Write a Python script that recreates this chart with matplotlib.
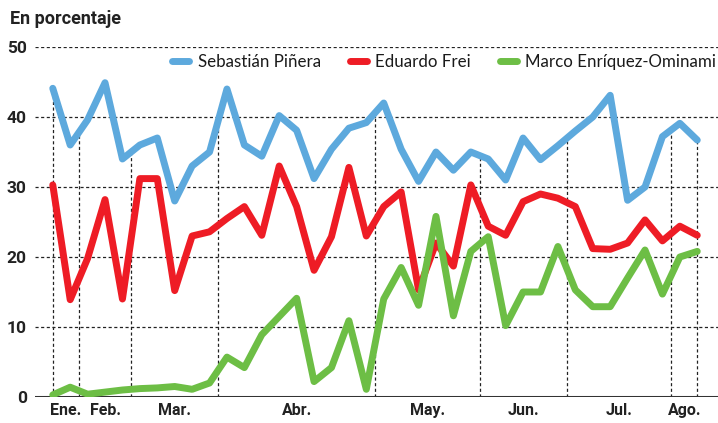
import numpy as np
import matplotlib
matplotlib.use("Agg")
import matplotlib.pyplot as plt

# poll values, one per survey (equally spaced in time order)
pinera = [44.1, 36, 39.6, 44.9, 34, 36, 37, 28, 33, 35,
          44, 36, 34.4, 40.2, 38.1, 31.2, 35.4, 38.4, 39.2, 42,
          35.4, 30.8, 35, 32.4, 35, 34, 31, 37, 33.9, 35.9,
          38, 40, 43.1, 28.1, 30, 37.2, 39.1, 36.7]
frei = [30.3, 13.9, 19.8, 28.2, 14, 31.2, 31.2, 15.2, 23, 23.6,
        25.5, 27.2, 23.1, 33, 27.2, 18.1, 22.9, 32.8, 23, 27.2,
        29.3, 15.3, 22, 18.7, 30.3, 24.4, 23.1, 27.9, 29, 28.4,
        27.2, 21.2, 21.1, 22, 25.3, 22.3, 24.4, 23.1]
meo = [0.3, 1.4, 0.4, 0.7, 1.0, 1.2, 1.3, 1.5, 1.1, 2.0,
       5.7, 4.2, 8.9, 11.5, 14.1, 2.2, 4.2, 10.9, 1.1, 14,
       18.5, 13.1, 25.8, 11.6, 20.8, 22.9, 10.2, 15, 15, 21.5,
       15.3, 12.9, 12.9, 17, 21, 14.7, 20, 20.8]

# month boundaries expressed in poll index units
month_edges = [0, 1.5, 4.5, 9.5, 18.5, 24.5, 29.5, 35.5, 37]
months = ["Ene.", "Feb.", "Mar.", "Abr.", "May.", "Jun.", "Jul.", "Ago."]
yticks = [0, 10, 20, 30, 40, 50]

names = ["Sebastián Piñera", "Eduardo Frei", "Marco Enríquez-Ominami"]
colors = ["#5DA9DD", "#EE1C25", "#6DBE45"]

bold_narrow = ["Roboto", "DejaVu Sans"]

x = np.arange(len(pinera))

fig = plt.figure(figsize=(7.18, 4.23), dpi=100)
ax = fig.add_axes([35 / 718, 26 / 423, 683 / 718, 350 / 423])

# grid
for v in yticks[1:]:
    ax.axhline(v, color="#222222", lw=0.9, ls=(0, (2.5, 2)), zorder=1)
for e in month_edges:
    top = np.interp(e, x, pinera)
    ax.plot([e, e], [0, top], color="#222222", lw=0.9, ls=(0, (2.5, 2)), zorder=1)
ax.axhline(0, color="#333333", lw=2.2, zorder=2)

series = [pinera, frei, meo]
for vals, name, c in zip(series, names, colors):
    ax.plot(x, vals, color=c, lw=5, label=name, solid_joinstyle="round",
            solid_capstyle="round", zorder=3)

ax.set_xlim(-1.02, 38.19)
ax.set_ylim(0, 50)

for s in ax.spines.values():
    s.set_visible(False)

ax.set_yticks(yticks)
ax.set_yticklabels([str(t) for t in yticks], family=bold_narrow,
                   fontweight="bold", fontsize=12.5, color="#222222")
ax.tick_params(axis="y", length=0, pad=6)

centers = [(a + b) / 2 for a, b in zip(month_edges[:-1], month_edges[1:])]
ax.set_xticks(centers)
ax.set_xticklabels(months, family=bold_narrow, fontweight="bold",
                   fontsize=11.5, color="#222222")
ax.tick_params(axis="x", length=0, pad=4)

fig.text(10 / 718, 1 - 19 / 423, "En porcentaje", family=bold_narrow,
         fontweight="bold", fontsize=13, color="#222222", va="center")

leg = ax.legend(loc="center right", bbox_to_anchor=(716 / 718, 1 - 62 / 423),
                bbox_transform=fig.transFigure, ncol=3, frameon=False,
                borderpad=0, borderaxespad=0, handlelength=1.0,
                handletextpad=0.5, columnspacing=1.7,
                prop={"family": ["Lato", "DejaVu Sans"], "size": 12.2})
for t in leg.get_texts():
    t.set_color("#1a1a1a")

fig.savefig("out.png", dpi=100)
